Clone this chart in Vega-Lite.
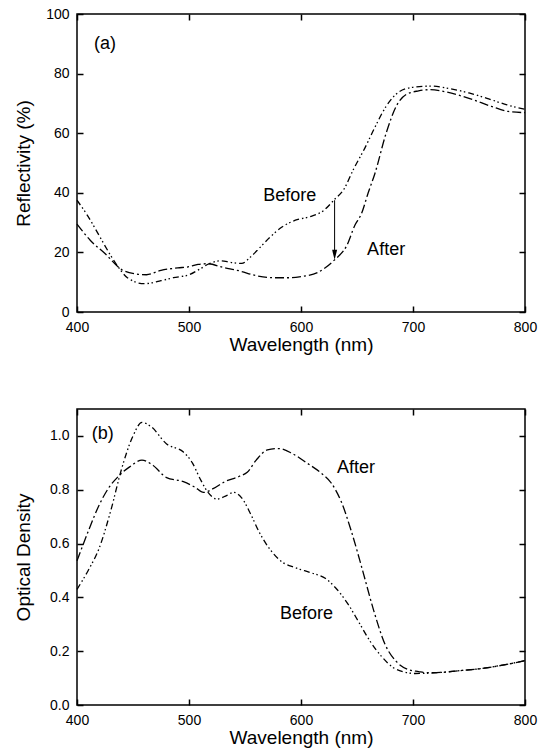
{
  "$schema": "https://vega.github.io/schema/vega-lite/v6.json",
  "background": "white",
  "padding": {"left": 13, "top": 6, "right": 5, "bottom": 0},
  "spacing": 52,
  "config": {
    "font": "Liberation Sans",
    "view": {"stroke": "black", "strokeWidth": 1.5},
    "axis": {
      "domain": false, "grid": false, "ticks": true, "labelFlush": false,
      "tickColor": "black", "tickSize": -6, "tickWidth": 1.5,
      "labelColor": "black", "labelFont": "Liberation Sans", "labelFontSize": 14,
      "titleFont": "Liberation Sans", "titleFontSize": 19, "titleFontWeight": "normal", "titleColor": "black"
    },
    "axisX": {"labelPadding": 14},
    "axisY": {"labelPadding": 14},
    "text": {"font": "Liberation Sans", "fontSize": 18, "color": "black"}
  },
  "datasets": {
    "refl": [
      {"wl": 400, "value": 37.5, "state": "Before"},
      {"wl": 410, "value": 32, "state": "Before"},
      {"wl": 420, "value": 25.5, "state": "Before"},
      {"wl": 430, "value": 19, "state": "Before"},
      {"wl": 437, "value": 15, "state": "Before"},
      {"wl": 445, "value": 11.5, "state": "Before"},
      {"wl": 460, "value": 9.5, "state": "Before"},
      {"wl": 475, "value": 10.5, "state": "Before"},
      {"wl": 486, "value": 11.5, "state": "Before"},
      {"wl": 500, "value": 12.5, "state": "Before"},
      {"wl": 510, "value": 14.5, "state": "Before"},
      {"wl": 518, "value": 16.2, "state": "Before"},
      {"wl": 528, "value": 17.2, "state": "Before"},
      {"wl": 538, "value": 16.6, "state": "Before"},
      {"wl": 547, "value": 16.3, "state": "Before"},
      {"wl": 555, "value": 18.5, "state": "Before"},
      {"wl": 563, "value": 21.5, "state": "Before"},
      {"wl": 572, "value": 25, "state": "Before"},
      {"wl": 583, "value": 28.5, "state": "Before"},
      {"wl": 595, "value": 30.8, "state": "Before"},
      {"wl": 608, "value": 32, "state": "Before"},
      {"wl": 620, "value": 34, "state": "Before"},
      {"wl": 630, "value": 37.8, "state": "Before"},
      {"wl": 638, "value": 41, "state": "Before"},
      {"wl": 647, "value": 48, "state": "Before"},
      {"wl": 657, "value": 55, "state": "Before"},
      {"wl": 666, "value": 62, "state": "Before"},
      {"wl": 676, "value": 69, "state": "Before"},
      {"wl": 688, "value": 74, "state": "Before"},
      {"wl": 700, "value": 75.4, "state": "Before"},
      {"wl": 716, "value": 75.8, "state": "Before"},
      {"wl": 735, "value": 74.8, "state": "Before"},
      {"wl": 750, "value": 73.5, "state": "Before"},
      {"wl": 766, "value": 71.7, "state": "Before"},
      {"wl": 784, "value": 69.5, "state": "Before"},
      {"wl": 800, "value": 68, "state": "Before"},
      {"wl": 400, "value": 29.5, "state": "After"},
      {"wl": 412, "value": 24, "state": "After"},
      {"wl": 425, "value": 19.6, "state": "After"},
      {"wl": 440, "value": 14.2, "state": "After"},
      {"wl": 452, "value": 12.8, "state": "After"},
      {"wl": 462, "value": 12.5, "state": "After"},
      {"wl": 475, "value": 14, "state": "After"},
      {"wl": 490, "value": 14.8, "state": "After"},
      {"wl": 500, "value": 15.2, "state": "After"},
      {"wl": 508, "value": 16, "state": "After"},
      {"wl": 517, "value": 16.2, "state": "After"},
      {"wl": 530, "value": 15, "state": "After"},
      {"wl": 545, "value": 13.8, "state": "After"},
      {"wl": 560, "value": 12.2, "state": "After"},
      {"wl": 575, "value": 11.5, "state": "After"},
      {"wl": 590, "value": 11.5, "state": "After"},
      {"wl": 600, "value": 11.9, "state": "After"},
      {"wl": 615, "value": 13.3, "state": "After"},
      {"wl": 630, "value": 17.5, "state": "After"},
      {"wl": 641, "value": 22.4, "state": "After"},
      {"wl": 648, "value": 29, "state": "After"},
      {"wl": 654, "value": 33, "state": "After"},
      {"wl": 660, "value": 40, "state": "After"},
      {"wl": 666, "value": 46.5, "state": "After"},
      {"wl": 676, "value": 60, "state": "After"},
      {"wl": 685, "value": 69, "state": "After"},
      {"wl": 694, "value": 73, "state": "After"},
      {"wl": 705, "value": 74.2, "state": "After"},
      {"wl": 715, "value": 74.6, "state": "After"},
      {"wl": 730, "value": 73.8, "state": "After"},
      {"wl": 750, "value": 71.7, "state": "After"},
      {"wl": 770, "value": 69, "state": "After"},
      {"wl": 785, "value": 67.3, "state": "After"},
      {"wl": 800, "value": 66.9, "state": "After"}
    ],
    "od": [
      {"wl": 400, "value": 0.43, "state": "Before"},
      {"wl": 410, "value": 0.5, "state": "Before"},
      {"wl": 420, "value": 0.585, "state": "Before"},
      {"wl": 430, "value": 0.72, "state": "Before"},
      {"wl": 440, "value": 0.88, "state": "Before"},
      {"wl": 450, "value": 1.0, "state": "Before"},
      {"wl": 458, "value": 1.05, "state": "Before"},
      {"wl": 466, "value": 1.035, "state": "Before"},
      {"wl": 480, "value": 0.97, "state": "Before"},
      {"wl": 495, "value": 0.94, "state": "Before"},
      {"wl": 503, "value": 0.9, "state": "Before"},
      {"wl": 510, "value": 0.84, "state": "Before"},
      {"wl": 517, "value": 0.79, "state": "Before"},
      {"wl": 525, "value": 0.765, "state": "Before"},
      {"wl": 532, "value": 0.775, "state": "Before"},
      {"wl": 540, "value": 0.79, "state": "Before"},
      {"wl": 547, "value": 0.77, "state": "Before"},
      {"wl": 555, "value": 0.71, "state": "Before"},
      {"wl": 563, "value": 0.64, "state": "Before"},
      {"wl": 572, "value": 0.58, "state": "Before"},
      {"wl": 582, "value": 0.535, "state": "Before"},
      {"wl": 595, "value": 0.51, "state": "Before"},
      {"wl": 610, "value": 0.49, "state": "Before"},
      {"wl": 622, "value": 0.47, "state": "Before"},
      {"wl": 632, "value": 0.43, "state": "Before"},
      {"wl": 642, "value": 0.375, "state": "Before"},
      {"wl": 652, "value": 0.305, "state": "Before"},
      {"wl": 662, "value": 0.235, "state": "Before"},
      {"wl": 672, "value": 0.18, "state": "Before"},
      {"wl": 682, "value": 0.14, "state": "Before"},
      {"wl": 692, "value": 0.123, "state": "Before"},
      {"wl": 702, "value": 0.117, "state": "Before"},
      {"wl": 712, "value": 0.118, "state": "Before"},
      {"wl": 725, "value": 0.121, "state": "Before"},
      {"wl": 740, "value": 0.127, "state": "Before"},
      {"wl": 760, "value": 0.135, "state": "Before"},
      {"wl": 780, "value": 0.148, "state": "Before"},
      {"wl": 800, "value": 0.165, "state": "Before"},
      {"wl": 400, "value": 0.536, "state": "After"},
      {"wl": 410, "value": 0.645, "state": "After"},
      {"wl": 420, "value": 0.745, "state": "After"},
      {"wl": 428, "value": 0.805, "state": "After"},
      {"wl": 437, "value": 0.85, "state": "After"},
      {"wl": 447, "value": 0.885, "state": "After"},
      {"wl": 458, "value": 0.91, "state": "After"},
      {"wl": 468, "value": 0.89, "state": "After"},
      {"wl": 480, "value": 0.845, "state": "After"},
      {"wl": 495, "value": 0.83, "state": "After"},
      {"wl": 505, "value": 0.81, "state": "After"},
      {"wl": 513, "value": 0.79, "state": "After"},
      {"wl": 522, "value": 0.805, "state": "After"},
      {"wl": 532, "value": 0.83, "state": "After"},
      {"wl": 545, "value": 0.85, "state": "After"},
      {"wl": 552, "value": 0.865, "state": "After"},
      {"wl": 560, "value": 0.91, "state": "After"},
      {"wl": 570, "value": 0.948, "state": "After"},
      {"wl": 580, "value": 0.953, "state": "After"},
      {"wl": 592, "value": 0.935, "state": "After"},
      {"wl": 605, "value": 0.9, "state": "After"},
      {"wl": 617, "value": 0.865, "state": "After"},
      {"wl": 627, "value": 0.825, "state": "After"},
      {"wl": 636, "value": 0.755, "state": "After"},
      {"wl": 645, "value": 0.645, "state": "After"},
      {"wl": 655, "value": 0.5, "state": "After"},
      {"wl": 665, "value": 0.35, "state": "After"},
      {"wl": 675, "value": 0.226, "state": "After"},
      {"wl": 685, "value": 0.162, "state": "After"},
      {"wl": 695, "value": 0.133, "state": "After"},
      {"wl": 705, "value": 0.124, "state": "After"},
      {"wl": 712, "value": 0.12, "state": "After"},
      {"wl": 725, "value": 0.121, "state": "After"},
      {"wl": 740, "value": 0.127, "state": "After"},
      {"wl": 760, "value": 0.135, "state": "After"},
      {"wl": 780, "value": 0.148, "state": "After"},
      {"wl": 800, "value": 0.165, "state": "After"}
    ],
    "notes_a": [
      {"wl": 425, "value": 90, "label": "(a)"},
      {"wl": 590, "value": 39, "label": "Before"},
      {"wl": 676, "value": 20.7, "label": "After"}
    ],
    "notes_b": [
      {"wl": 423, "value": 1.006, "label": "(b)"},
      {"wl": 649, "value": 0.882, "label": "After"},
      {"wl": 605, "value": 0.338, "label": "Before"}
    ],
    "arrow": [
      {"wl": 630, "from": 37.5, "to": 20, "head": 19.2}
    ]
  },
  "vconcat": [
    {
      "width": 448,
      "height": 298,
      "layer": [
        {
          "data": {"name": "refl"},
          "mark": {"type": "line", "color": "black", "strokeWidth": 1.3, "interpolate": "monotone"},
          "encoding": {
            "x": {"field": "wl", "type": "quantitative", "scale": {"domain": [400, 800], "nice": false},
                  "axis": {"orient": "bottom", "title": "Wavelength (nm)", "values": [400, 500, 600, 700, 800], "format": "d", "titlePadding": 1}},
            "y": {"field": "value", "type": "quantitative", "scale": {"domain": [0, 100], "nice": false},
                  "axis": {"orient": "left", "title": "Reflectivity (%)", "values": [0, 20, 40, 60, 80, 100], "format": "d", "minExtent": 34, "maxExtent": 34, "titlePadding": 10}},
            "strokeDash": {"field": "state", "type": "nominal", "scale": {"domain": ["Before", "After"], "range": [[6, 3, 1.5, 2.5, 1.5, 3], [9, 3, 2, 3]]}, "legend": null}
          }
        },
        {
          "data": {"name": "refl"},
          "mark": {"type": "point", "opacity": 0},
          "encoding": {
            "x": {"field": "wl", "type": "quantitative", "scale": {"domain": [400, 800], "nice": false},
                  "axis": {"orient": "top", "title": null, "labels": false, "values": [400, 500, 600, 700, 800], "minExtent": 0}},
            "y": {"field": "value", "type": "quantitative", "scale": {"domain": [0, 100], "nice": false},
                  "axis": {"orient": "right", "title": null, "labels": false, "values": [0, 20, 40, 60, 80, 100], "minExtent": 0}}
          }
        },
        {
          "data": {"name": "notes_a"},
          "mark": {"type": "text", "align": "center", "baseline": "middle"},
          "encoding": {
            "x": {"field": "wl", "type": "quantitative", "scale": {"domain": [400, 800], "nice": false}, "axis": null},
            "y": {"field": "value", "type": "quantitative", "scale": {"domain": [0, 100], "nice": false}, "axis": null},
            "text": {"field": "label"}
          }
        },
        {
          "data": {"name": "arrow"},
          "mark": {"type": "rule", "color": "black", "strokeWidth": 1},
          "encoding": {
            "x": {"field": "wl", "type": "quantitative", "scale": {"domain": [400, 800], "nice": false}, "axis": null},
            "y": {"field": "from", "type": "quantitative", "scale": {"domain": [0, 100], "nice": false}, "axis": null},
            "y2": {"field": "to"}
          }
        },
        {
          "data": {"name": "arrow"},
          "mark": {"type": "point", "shape": "M-0.5,-1L0.5,-1L0,1Z", "filled": true, "color": "black", "size": 100, "opacity": 1},
          "encoding": {
            "x": {"field": "wl", "type": "quantitative", "scale": {"domain": [400, 800], "nice": false}, "axis": null},
            "y": {"field": "head", "type": "quantitative", "scale": {"domain": [0, 100], "nice": false}, "axis": null}
          }
        }
      ],
      "resolve": {"axis": {"x": "independent", "y": "independent"}}
    },
    {
      "width": 448,
      "height": 296,
      "layer": [
        {
          "data": {"name": "od"},
          "mark": {"type": "line", "color": "black", "strokeWidth": 1.3, "interpolate": "monotone"},
          "encoding": {
            "x": {"field": "wl", "type": "quantitative", "scale": {"domain": [400, 800], "nice": false},
                  "axis": {"orient": "bottom", "title": "Wavelength (nm)", "values": [400, 500, 600, 700, 800], "format": "d", "titlePadding": 1}},
            "y": {"field": "value", "type": "quantitative", "scale": {"domain": [0, 1.1], "nice": false},
                  "axis": {"orient": "left", "title": "Optical Density", "values": [0, 0.2, 0.4, 0.6, 0.8, 1.0], "format": ".1f", "minExtent": 34, "maxExtent": 34, "titlePadding": 10}},
            "strokeDash": {"field": "state", "type": "nominal", "scale": {"domain": ["Before", "After"], "range": [[6, 3, 1.5, 2.5, 1.5, 3], [9, 3, 2, 3]]}, "legend": null}
          }
        },
        {
          "data": {"name": "od"},
          "mark": {"type": "point", "opacity": 0},
          "encoding": {
            "x": {"field": "wl", "type": "quantitative", "scale": {"domain": [400, 800], "nice": false},
                  "axis": {"orient": "top", "title": null, "labels": false, "values": [400, 500, 600, 700, 800], "minExtent": 0}},
            "y": {"field": "value", "type": "quantitative", "scale": {"domain": [0, 1.1], "nice": false},
                  "axis": {"orient": "right", "title": null, "labels": false, "values": [0, 0.2, 0.4, 0.6, 0.8, 1.0], "minExtent": 0}}
          }
        },
        {
          "data": {"name": "notes_b"},
          "mark": {"type": "text", "align": "center", "baseline": "middle"},
          "encoding": {
            "x": {"field": "wl", "type": "quantitative", "scale": {"domain": [400, 800], "nice": false}, "axis": null},
            "y": {"field": "value", "type": "quantitative", "scale": {"domain": [0, 1.1], "nice": false}, "axis": null},
            "text": {"field": "label"}
          }
        }
      ],
      "resolve": {"axis": {"x": "independent", "y": "independent"}}
    }
  ]
}
